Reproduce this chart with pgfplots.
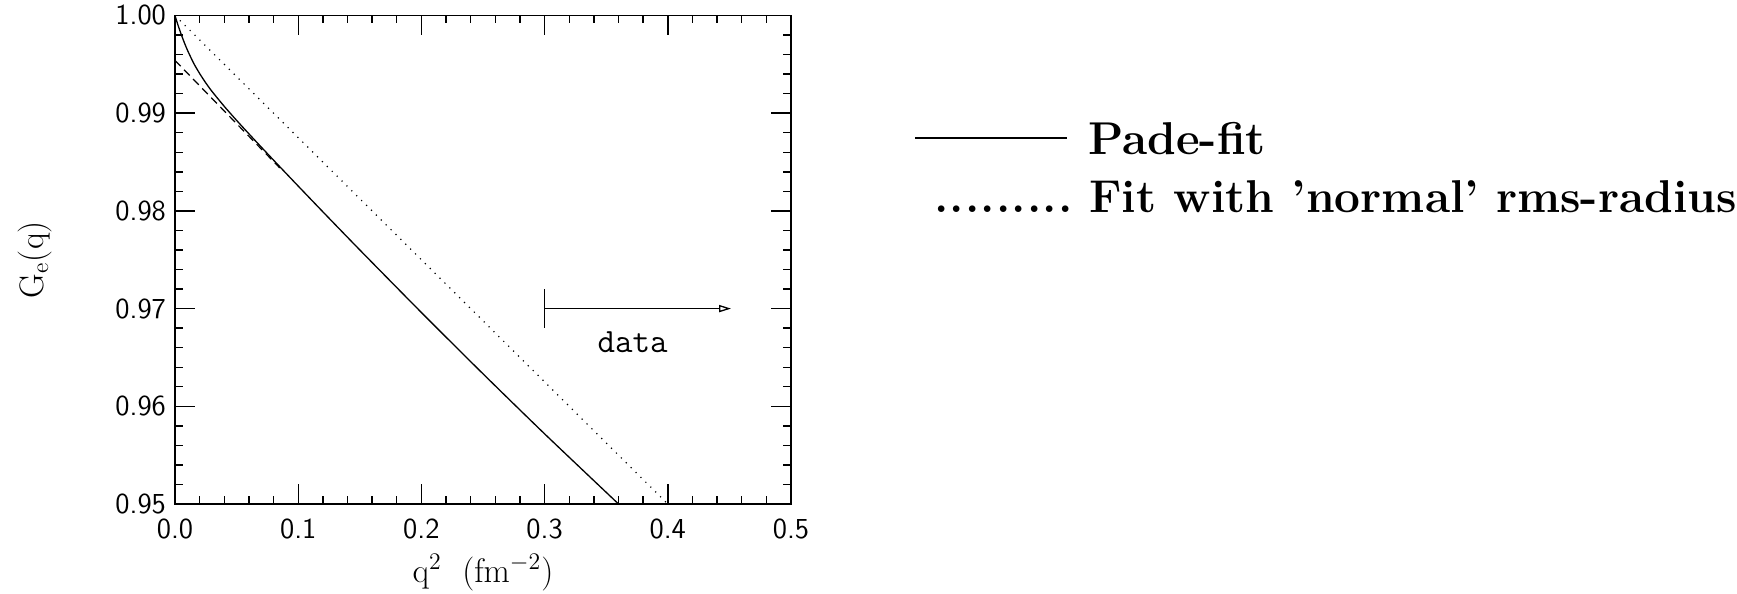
\documentclass[border=0pt]{standalone}
\usepackage{pgfplots}
\pgfplotsset{compat=1.18}
\usetikzlibrary{arrows.meta}
\begin{document}
\begin{tikzpicture}
\useasboundingbox (0,0) rectangle (868.5pt,297pt);
\begin{axis}[
  at={(87.5pt,45pt)}, anchor=south west,
  scale only axis, width=308pt, height=244.25pt,
  xmin=0, xmax=0.5, ymin=0.95, ymax=1.0,
  xtick={0,0.1,0.2,0.3,0.4,0.5},
  ytick={0.95,0.96,0.97,0.98,0.99,1.0},
  minor x tick num=4, minor y tick num=4,
  tick align=inside,
  major tick length=10pt, minor tick length=4pt,
  every tick/.style={black, line width=0.7pt},
  axis line style={line width=0.75pt},
  scaled ticks=false,
  /pgf/number format/assume math mode=true,
  tick label style={font=\fontsize{14.5}{17}\selectfont\sffamily},
  x tick label style={/pgf/number format/fixed, /pgf/number format/fixed zerofill, /pgf/number format/precision=1, yshift=-4pt},
  y tick label style={/pgf/number format/fixed, /pgf/number format/fixed zerofill, /pgf/number format/precision=2, xshift=-1pt},
  xlabel={q\textsuperscript{2}\hspace{0.6em}(fm\textsuperscript{$-$2})},
  ylabel={G\textsubscript{e}(q)},
  every axis x label/.style={at={(axis description cs:0.5,-0.140)}, anchor=center, font=\fontsize{17}{20}\selectfont\rmfamily},
  every axis y label/.style={at={(axis description cs:-0.228,0.5)}, rotate=90, anchor=center, font=\fontsize{17}{20}\selectfont\rmfamily},
]
% Pade-fit (solid)
\addplot[black, line width=0.65pt, smooth, tension=0.4] coordinates {
(0.000,1.000000) (0.001,0.999580) (0.0025,0.998990) (0.005,0.998080) (0.0075,0.997250)
(0.010,0.996480) (0.015,0.995150) (0.020,0.994060) (0.025,0.993100) (0.030,0.992235)
(0.040,0.990697) (0.050,0.989267) (0.060,0.987889) (0.070,0.986535) (0.080,0.985195)
(0.090,0.983865) (0.100,0.982541) (0.120,0.979910) (0.150,0.976005) (0.200,0.969600)
(0.250,0.963325) (0.300,0.957180) (0.360,0.950000)
};
% dashed
\addplot[black, line width=0.6pt, dash pattern=on 4pt off 2.5pt] coordinates {
(0.000,0.99540) (0.085,0.98440)
};
% Fit with normal rms-radius (dotted)
\addplot[black, line width=0.6pt, dash pattern=on 0.6pt off 2.85pt] coordinates {
(0.000,1.00000) (0.400,0.95000)
};
% data range marker
\draw[black, line width=0.65pt] (axis cs:0.3,0.972) -- (axis cs:0.3,0.968);
\draw[black, line width=0.65pt, -{Triangle[open,length=6pt,width=3.6pt]}] (axis cs:0.3,0.97) -- (axis cs:0.4513,0.97);
\node[font=\fontsize{17}{20}\selectfont\ttfamily] at (axis cs:0.3714,0.96658) {data};
\end{axis}
% legend
\draw[black, line width=0.65pt] (457.5pt,228pt) -- (533.5pt,228pt);
\node[anchor=base west, inner sep=0pt, font=\fontsize{23}{27}\selectfont\bfseries] at (544pt,219.5pt) {Pade-fit};
\node[anchor=base west, inner sep=0pt, font=\fontsize{23}{27}\selectfont\bfseries] at (467pt,190.6pt) {\makebox[69pt][s]{.\hfil.\hfil.\hfil.\hfil.\hfil.\hfil.\hfil.\hfil.}};
\node[anchor=base west, inner sep=0pt, font=\fontsize{23}{27}\selectfont\bfseries] at (544.5pt,190.6pt) {Fit with 'normal' rms-radius};
\end{tikzpicture}
\end{document}
